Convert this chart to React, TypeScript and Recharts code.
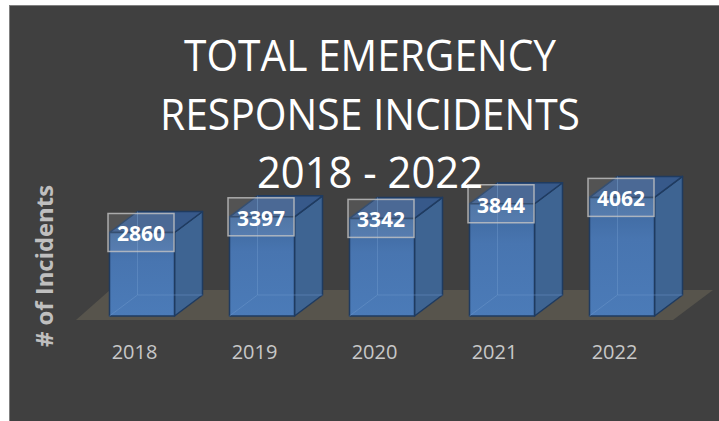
import * as React from "react";
import { BarChart, Bar, XAxis, YAxis, LabelList, ReferenceArea } from "recharts";

const years = ["2018", "2019", "2020", "2021", "2022"];
const incidents = [2860, 3397, 3342, 3844, 4062];
const titleLines = ["TOTAL EMERGENCY", "RESPONSE INCIDENTS", "2018 - 2022"];
const yAxisTitle = "# of Incidents";

const data = years.map((year, i) => ({ year, incidents: incidents[i] }));

const DX = 28;
const DY = -21;

const BoxShape = (props: any) => {
  const { x, y, width: w, height: h } = props;
  if (!h || h <= 0) return null;
  const front = `M${x},${y}h${w}v${h}h${-w}Z`;
  const side = `M${x + w},${y}L${x + w + DX},${y + DY}L${x + w + DX},${y + h + DY}L${x + w},${y + h}Z`;
  const top = `M${x},${y}L${x + DX},${y + DY}L${x + w + DX},${y + DY}L${x + w},${y}Z`;
  return (
    <g>
      <path d={side} fill="#3e6492" stroke="#1f3b60" strokeWidth={1.5} strokeLinejoin="round" />
      <path d={top} fill="#37598a" stroke="#1f3b60" strokeWidth={1.5} strokeLinejoin="round" />
      <path d={front} fill="url(#frontGrad)" stroke="#1f3b60" strokeWidth={1.5} strokeLinejoin="round" />
      {/* faint hidden edges, the boxes look a bit see-through */}
      <g stroke="#6f98cc" strokeOpacity={0.45} strokeWidth={1}>
        <line x1={x + DX} y1={y + DY} x2={x + DX} y2={y + h + DY} />
        <line x1={x + DX} y1={y + h + DY} x2={x + w + DX} y2={y + h + DY} />
        <line x1={x} y1={y + h} x2={x + DX} y2={y + h + DY} />
      </g>
    </g>
  );
};

// ReferenceArea on a category axis spans from the first band's start to the last band's end
const FloorShape = (props: any) => {
  const { x, width, y, height } = props;
  const bottom = y + height + 4;
  const pts = [
    [x - 5.5, bottom],
    [x + width - 8.5, bottom],
    [x + width + 31.5, bottom - 30],
    [x + 28.5, bottom - 30],
  ];
  return <polygon points={pts.map((p) => p.join(",")).join(" ")} fill="#57544c" />;
};

const ValueLabel = (props: any) => {
  const { x, y, width, value } = props;
  const cx = x + width / 2 - 1;
  return (
    <g>
      <rect
        x={cx - 33}
        y={y - 19}
        width={66}
        height={38}
        fill="#ffffff"
        fillOpacity={0.1}
        stroke="#c4c4c4"
        strokeOpacity={0.8}
        strokeWidth={1.5}
      />
      <text
        x={cx}
        y={y + 1}
        textAnchor="middle"
        dominantBaseline="central"
        fill="#ffffff"
        fontFamily="'Open Sans', sans-serif"
        fontWeight={700}
        fontSize={21}
      >
        {value}
      </text>
    </g>
  );
};

const YearTick = (props: any) => {
  const { x, y, payload } = props;
  return (
    <text
      x={x - 7}
      y={y + 35}
      textAnchor="middle"
      fill="#c8c8c8"
      fontFamily="'Open Sans', sans-serif"
      fontSize={20}
    >
      {payload.value}
    </text>
  );
};

export default function App() {
  return (
    <div style={{ position: "fixed", left: 0, top: 0, width: 719, height: 421, background: "#ffffff", overflow: "hidden" }}>
      <div
        style={{
          position: "absolute",
          left: 9,
          top: 5,
          width: 720,
          height: 420,
          background: "#404040",
          borderLeft: "1px solid #808080",
          borderTop: "1px solid #808080",
        }}
      />
      <div style={{ position: "absolute", left: 0, top: 0 }}>
        <BarChart
          width={719}
          height={421}
          data={data}
          margin={{ top: 170, right: 37.5, bottom: 75, left: 81.5 }}
          barSize={65}
        >
          <defs>
            <linearGradient id="frontGrad" x1="0" y1="0" x2="0" y2="1">
              <stop offset="0%" stopColor="#3e679c" />
              <stop offset="35%" stopColor="#4875b0" />
              <stop offset="100%" stopColor="#4b7bb8" />
            </linearGradient>
          </defs>
          <XAxis
            dataKey="year"
            axisLine={false}
            tickLine={false}
            height={30}
            tick={<YearTick />}
            interval={0}
          />
          <YAxis hide domain={[0, 5000]} />
          <ReferenceArea
            x1="2018"
            x2="2022"
            y1={0}
            y2={500}
            ifOverflow="visible"
            shape={<FloorShape />}
          />
          <Bar dataKey="incidents" shape={<BoxShape />} isAnimationActive={false}>
            <LabelList dataKey="incidents" content={<ValueLabel />} />
          </Bar>
        </BarChart>
      </div>
      <svg width={719} height={421} style={{ position: "absolute", left: 0, top: 0, pointerEvents: "none" }}>
        {titleLines.map((line, i) => (
          <text
            key={line}
            x={370}
            y={71 + i * 58.5}
            textAnchor="middle"
            fill="#ffffff"
            fontFamily="'Open Sans', sans-serif"
            fontSize={43}
            textLength={[372, 420, 226][i]}
            lengthAdjust="spacingAndGlyphs"
          >
            {line}
          </text>
        ))}
        <text
          x={0}
          y={0}
          transform="translate(44,266) rotate(-90)"
          textAnchor="middle"
          dominantBaseline="central"
          fill="#bfbfbf"
          fontFamily="'Open Sans', sans-serif"
          fontWeight={700}
          fontSize={23}
          textLength={162}
          lengthAdjust="spacingAndGlyphs"
        >
          {yAxisTitle}
        </text>
      </svg>
    </div>
  );
}
